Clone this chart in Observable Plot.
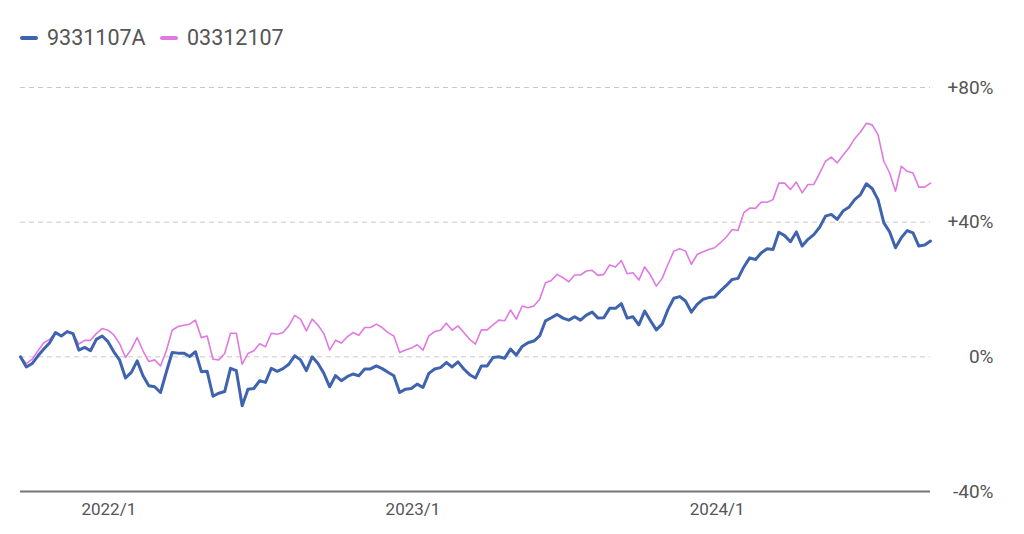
<!DOCTYPE html>
<html>
<head>
<meta charset="utf-8">
<script src="https://cdn.jsdelivr.net/npm/d3@7"></script>
<script src="https://cdn.jsdelivr.net/npm/@observablehq/plot@0.6"></script>
<style>
  html, body { margin: 0; padding: 0; background: #fff; }
  body { width: 1024px; height: 534px; overflow: hidden; font-family: Roboto, "Liberation Sans", sans-serif; }
  #legend { height: 60px; position: relative; color: #555; font-size: 21.5px; }
  .item { position: absolute; top: 25px; display: flex; align-items: center; }
  .sw { width: 18px; height: 4px; border-radius: 2px; margin-right: 9px; }
</style>
</head>
<body>
<div id="legend"></div>
<div id="chart"></div>
<script>
// ---- data ----
const seriesNames = ["9331107A", "03312107"];
const seriesColors = ["#3f63ae", "#e07ae0"];
const startDate = new Date(2021, 8, 17); // weekly observations
const fund9331107A = [
  0, -3, -2, 0.3, 2.3, 4.2, 7.2, 6.2, 7.5, 6.9,
  2, 2.8, 1.8, 5.2, 6.2, 4.5, 1.5, -1, -6.3, -4.6,
  -1.2, -5.6, -8.6, -8.9, -10.6, -4.5, 1.3, 1.1, 1.1, 0.1,
  1.5, -4.4, -4.3, -11.7, -10.8, -10.3, -3.4, -4.1, -14.5, -9.6,
  -9.4, -7.1, -7.6, -3.4, -4.3, -3.5, -2.2, 0.3, -0.9, -4.1,
  0, -2, -4.9, -8.9, -5.6, -7.1, -5.9, -5.1, -5.6, -3.6,
  -3.6, -2.7, -3.5, -4.6, -5.6, -10.6, -9.6, -9.4, -8.1, -9.1,
  -4.9, -3.6, -3.2, -1.7, -3.0, -1.5, -3.6, -5.3, -6.3, -2.7,
  -2.7, -0.2, 0, -0.4, 2.3, 0.5, 3.1, 4.2, 4.7, 6.2,
  10.7, 11.6, 12.6, 11.5, 10.9, 11.9, 10.9, 12.4, 13.3, 11.5,
  11.6, 14.4, 14.4, 15.8, 11.5, 11.9, 9.5, 13.6, 10.7, 8.0,
  9.7, 14.1, 17.4, 17.9, 16.6, 13.3, 15.6, 17.1, 17.6, 17.8,
  19.6, 21.2, 23.0, 23.3, 26.7, 29.4, 28.9, 30.9, 32.1, 31.9,
  37.0, 36.0, 34.2, 37.1, 32.9, 34.9, 36.3, 38.5, 41.8, 42.3,
  40.8, 43.3, 44.4, 46.7, 48.2, 51.4, 50.0, 46.7, 39.8, 37.1,
  32.4, 35.4, 37.5, 36.8, 32.9, 33.2, 34.4
];
const fund03312107 = [
  0, -2, -0.7, 1.8, 4.2, 5.2, 7.2, 6.2, 7.5, 6.9,
  3.8, 4.9, 4.9, 6.9, 8.4, 7.9, 6.5, 3.9, -0.2, 2.3,
  5.7, 1.8, -1.4, -0.9, -2.7, 1.8, 7.9, 9.0, 9.4, 9.7,
  10.9, 5.7, 6.2, -0.7, -0.9, 1.0, 7.0, 7.0, -2.2, 1.0,
  1.8, 3.9, 3.0, 7.0, 6.7, 7.2, 9.2, 12.3, 11.2, 7.7,
  11.2, 9.4, 6.9, 2.0, 4.9, 4.1, 5.9, 7.2, 6.4, 8.7,
  8.7, 9.7, 8.7, 7.2, 6.2, 1.3, 2.0, 2.6, 3.6, 2.0,
  6.2, 7.5, 7.9, 10.0, 7.9, 9.2, 7.2, 5.2, 3.8, 8.0,
  8.0, 9.5, 10.9, 10.7, 13.9, 11.2, 15.1, 14.6, 15.1, 17.1,
  22.0, 22.7, 24.5, 23.5, 22.3, 24.3, 24.3, 25.5, 25.7, 24.2,
  24.5, 27.3, 26.7, 28.6, 24.7, 25.0, 22.8, 26.7, 24.3, 21.0,
  23.3, 27.5, 31.4, 32.1, 31.4, 27.5, 30.4, 31.2, 31.9, 32.4,
  33.9, 35.6, 37.8, 37.5, 42.8, 44.2, 44.1, 46.0, 45.9, 46.7,
  51.6, 51.6, 49.7, 51.9, 48.7, 51.2, 51.2, 54.6, 58.1, 59.3,
  57.6, 59.9, 62.0, 64.8, 66.8, 69.4, 68.9, 66.0, 58.1, 54.6,
  49.2, 56.6, 55.1, 54.6, 50.4, 50.4, 51.6
];
const yTicks = [-40, 0, 40, 80];
const yTickLabels = ["-40%", "0%", "+40%", "+80%"];
const xTickDates = [new Date(2022, 0, 1), new Date(2023, 0, 1), new Date(2024, 0, 1)];
const xTickLabels = ["2022/1", "2023/1", "2024/1"];

// ---- legend ----
const legend = document.getElementById("legend");
const legendX = [20, 160];
seriesNames.forEach((n, i) => {
  const it = document.createElement("div");
  it.className = "item";
  it.style.left = legendX[i] + "px";
  it.innerHTML = `<span class="sw" style="background:${seriesColors[i]}"></span><span>${n}</span>`;
  legend.appendChild(it);
});

// ---- table ----
const dates = fund9331107A.map((_, i) => d3.timeWeek.offset(startDate, i));
const rows = [];
[fund03312107, fund9331107A].forEach((arr, k) => {
  const name = k === 0 ? seriesNames[1] : seriesNames[0];
  arr.forEach((v, i) => rows.push({date: dates[i], value: v, series: name}));
});

const chart = Plot.plot({
  width: 1024,
  height: 474,
  marginLeft: 20,
  marginRight: 94,
  marginTop: 27,
  marginBottom: 43,
  x: {type: "time", domain: [dates[0], dates[dates.length - 1]]},
  y: {domain: [-40, 80]},
  style: {fontFamily: "Roboto, 'Liberation Sans', sans-serif", fontSize: "17px", color: "#555", background: "#fff"},
  marks: [
    Plot.gridY([0, 40, 80], {stroke: "#c8c8c8", strokeOpacity: 1, strokeDasharray: "5,4"}),
    Plot.ruleY([-40], {stroke: "#777", strokeWidth: 2}),
    Plot.axisY(yTicks, {anchor: "right", tickSize: 0, tickPadding: 63, textAnchor: "end", fontSize: 19,
      tickFormat: d => yTickLabels[yTicks.indexOf(d)], label: null, fill: "#555"}),
    Plot.axisX(xTickDates, {anchor: "bottom", tickSize: 0, tickPadding: 11, fontSize: 17,
      tickFormat: d => xTickLabels[xTickDates.findIndex(t => +t === +d)], label: null, fill: "#555"}),
    Plot.line(rows.filter(r => r.series === seriesNames[1]), {x: "date", y: "value", stroke: seriesColors[1], strokeWidth: 1.6}),
    Plot.line(rows.filter(r => r.series === seriesNames[0]), {x: "date", y: "value", stroke: seriesColors[0], strokeWidth: 3})
  ]
});
document.getElementById("chart").appendChild(chart);
</script>
</body>
</html>
